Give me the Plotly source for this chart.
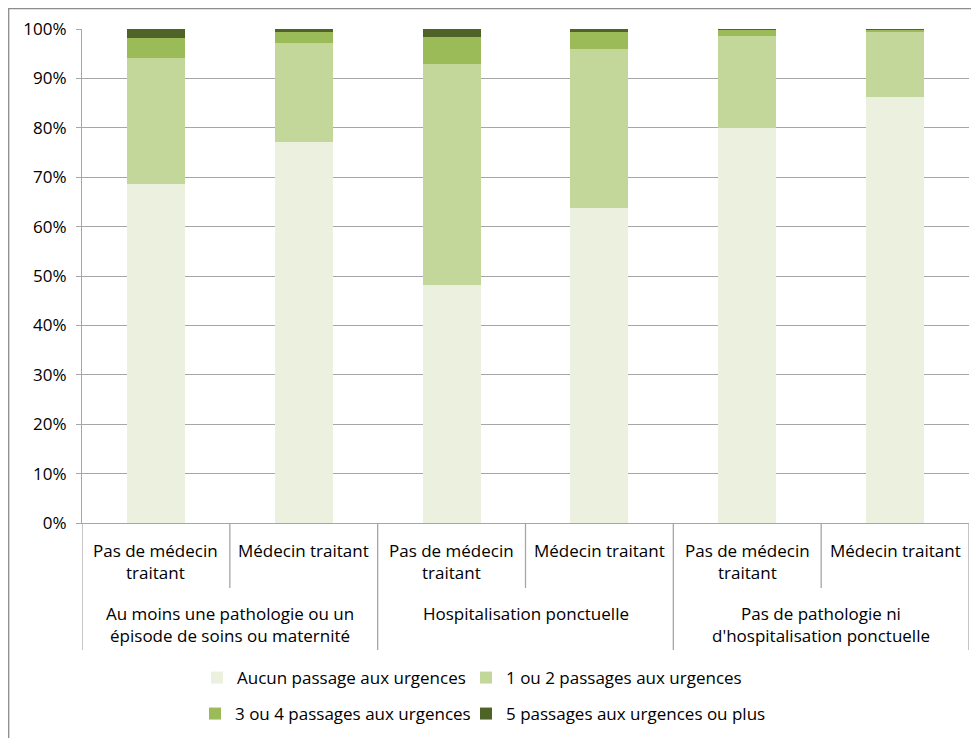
import plotly.graph_objects as go

# ---- data ----
groups = [
    "Au moins une pathologie ou un<br>épisode de soins ou maternité",
    "Hospitalisation ponctuelle",
    "Pas de pathologie ni<br>d'hospitalisation ponctuelle",
]
subcats = ["Pas de médecin<br>traitant", "Médecin traitant"]

aucun = [68.6, 77.1, 48.2, 63.8, 80.0, 86.2]
un_deux = [25.5, 20.1, 44.7, 32.1, 18.6, 13.1]
trois_quatre = [4.0, 2.2, 5.5, 3.5, 1.2, 0.6]
cinq_plus = [1.9, 0.6, 1.6, 0.6, 0.2, 0.1]

series_names = [
    "Aucun passage aux urgences",
    "1 ou 2 passages aux urgences",
    "3 ou 4 passages aux urgences",
    "5 passages aux urgences ou plus",
]
series_values = [aucun, un_deux, trois_quatre, cinq_plus]
colors = ["#EBF1DE", "#C4D79B", "#9BBB59", "#4F6228"]

# ---- layout constants (screen px targets; the page body adds an 8px offset) ----
OFF = 8
W, H = 979, 738
PLOT_L, PLOT_R, PLOT_T, PLOT_B = 82, 969, 29, 523   # on-screen plot area
ML = PLOT_L - OFF
MT = PLOT_T - OFF
MR = W - (PLOT_R - OFF)
MB = H - (PLOT_B - OFF)
PW = PLOT_R - PLOT_L
PH = PLOT_B - PLOT_T
FONT = "Open Sans"
FS = 17
GRID = "#A6A6A6"


def px_x(px):
    return (px - PLOT_L) / PW


def px_y(py):
    return (PLOT_B - py) / PH


n_groups = len(groups)
n_sub = len(subcats)
idx = list(range(n_groups * n_sub))

legend_ids = ["legend", "legend2", "legend3", "legend4"]
# legend item positions (left edge px, vertical centre px) on screen
legend_pos = [(197, 678), (466, 678), (195, 714), (466, 714)]

fig = go.Figure()
for name, vals, col, lid in zip(series_names, series_values, colors, legend_ids):
    fig.add_trace(go.Bar(
        x=idx,
        y=[v / 100 for v in vals],
        name=name,
        marker=dict(color=col, line=dict(width=0)),
        legend=lid,
    ))

annotations = []
shapes = []
for g in range(n_groups):
    for s in range(n_sub):
        i = g * n_sub + s
        annotations.append(dict(
            x=i, xref="x", y=px_y(537), yref="paper",
            text=subcats[s], showarrow=False, xanchor="center", yanchor="top",
            font=dict(family=FONT, size=FS, color="#000000"), align="center",
        ))
    annotations.append(dict(
        x=g * n_sub + (n_sub - 1) / 2, xref="x", y=px_y(600), yref="paper",
        text=groups[g], showarrow=False, xanchor="center", yanchor="top",
        font=dict(family=FONT, size=FS, color="#000000"), align="center",
    ))

# dividers
for b in range(len(idx) + 1):
    xb = b - 0.5
    outer = (b % n_sub == 0)
    shapes.append(dict(
        type="line", xref="x", yref="paper",
        x0=xb, x1=xb, y0=0, y1=px_y(650 if outer else 588),
        line=dict(color=GRID, width=1.3),
    ))

# outer chart border
shapes.append(dict(
    type="rect", xref="paper", yref="paper",
    x0=px_x(OFF + 0.7), x1=px_x(995), y0=px_y(OFF + 0.7), y1=px_y(760),
    line=dict(color="#8C8C8C", width=1.3), fillcolor="rgba(0,0,0,0)", layer="below",
))

legends = {}
for lid, (lx, ly) in zip(legend_ids, legend_pos):
    legends[lid] = dict(
        x=px_x(lx), y=px_y(ly), orientation="h", xanchor="left", yanchor="middle",
        font=dict(family=FONT, size=FS, color="#000000"),
        bgcolor="rgba(0,0,0,0)", itemclick=False, itemdoubleclick=False,
    )

fig.update_layout(
    template="none",
    width=W, height=H,
    margin=dict(l=ML, r=MR, t=MT, b=MB, autoexpand=False),
    paper_bgcolor="white", plot_bgcolor="white",
    barmode="stack", bargap=0.607,
    font=dict(family=FONT, size=FS, color="#000000"),
    xaxis=dict(
        type="linear", range=[-0.5, len(idx) - 0.5], automargin=False,
        showticklabels=False, ticks="", showgrid=False, zeroline=False,
        showline=True, linecolor=GRID, linewidth=1.3,
    ),
    yaxis=dict(
        range=[0, 1], dtick=0.1, tickformat=".0%", automargin=False,
        showgrid=True, gridcolor=GRID, gridwidth=1.3,
        showline=True, linecolor=GRID, linewidth=1.3,
        ticks="outside", ticklen=5, tickcolor=GRID, tickwidth=1.3,
        zeroline=False, ticklabelstandoff=6,
        tickfont=dict(family=FONT, size=FS, color="#000000"),
    ),
    annotations=annotations,
    shapes=shapes,
    showlegend=True,
    **legends,
)

fig.write_html("out.html")
